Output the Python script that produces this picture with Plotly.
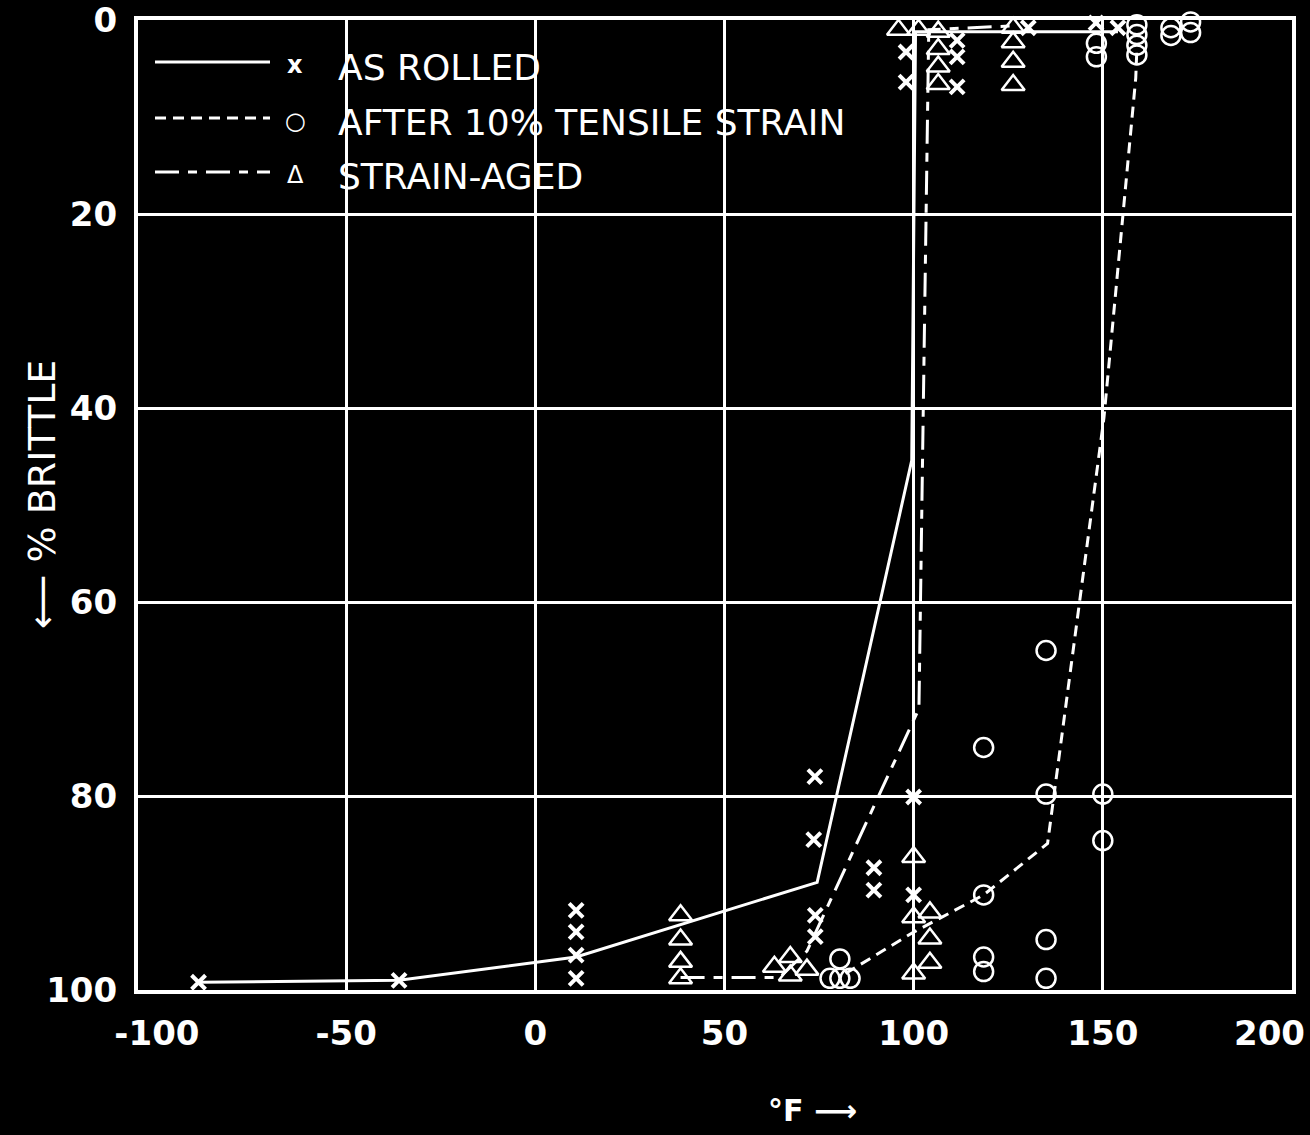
import plotly.graph_objects as go

# ---------------- data ----------------
rolled_x = [-89, -36, 10.8, 10.8, 10.8, 10.8, 73.9, 73.6, 74, 74, 89.5, 89.5,
            100, 100, 98, 98, 111.5, 111.5, 111.5, 130.3, 148.2, 154]
rolled_y = [99.2, 99, 91.8, 94, 96.4, 98.8, 78, 84.5, 92.3, 94.5, 87.4, 89.7,
            80.1, 90.2, 3.3, 6.4, 2.1, 3.8, 6.9, 0.8, 0.3, 0.8]
rolled_line_x = [-89, -36, 10.8, 74.5, 99.5, 100.5, 154]
rolled_line_y = [99.2, 99, 96.6, 88.9, 45.4, 1.2, 1.2]

strained_x = [77.9, 80.5, 80.5, 83.2, 118.5, 118.5, 118.5, 118.5, 135, 135, 135, 135,
              150, 150, 148.3, 148.3, 159, 159, 159, 159, 168, 168, 173.2, 173.2]
strained_y = [98.8, 96.8, 98.8, 98.8, 75, 90.2, 96.6, 98.1, 65, 79.8, 94.8, 98.8,
              79.8, 84.6, 2.4, 3.8, 0.5, 1.5, 2.6, 3.6, 0.8, 1.6, 0.2, 1.3]
strained_line_x = [82, 99.7, 118.5, 135.4, 150.3, 158.7, 159]
strained_line_y = [98.3, 94.1, 90.2, 84.9, 41, 6, 3]

aged_x = [38.4, 38.4, 38.4, 38.4, 63.2, 67.4, 67.4, 71.8, 100, 100, 100, 104.3, 104.3, 104.3,
          96, 101.3, 106.5, 106.5, 106.5, 106.5, 126.3, 126.3, 126.3, 126.3]
aged_y = [92.3, 94.8, 97.1, 98.8, 97.6, 96.6, 98.5, 97.9, 86.3, 92.5, 98.3, 92, 94.7, 97.2,
          1, 1, 1.2, 3.0, 4.8, 6.6, 0.8, 2.3, 4.3, 6.7]
aged_line_x = [38.4, 64.6, 71.8, 101.4, 104, 126.3]
aged_line_y = [98.7, 98.7, 96, 71, 1, 0.6]

x_ticks = [-100, -50, 0, 50, 100, 150]
x_ticktext = ["-100", "-50", "0", "50", "100", "150"]
x_edge_label = "200"          # label of the right-hand frame edge (x = 200)
x_grid = [-50, 0, 50, 100, 150]
y_ticks = [0, 20, 40, 60, 80, 100]

legend_names = ["AS ROLLED", "AFTER 10% TENSILE STRAIN", "STRAIN-AGED"]
legend_syms = ["<b>x</b>", "○", "Δ"]

W = "white"
DASH_SHORT = "11px,7px"
DASH_LONG = "24px,9px,9px,9px"

fig = go.Figure()

# lines
fig.add_trace(go.Scatter(x=rolled_line_x, y=rolled_line_y, mode="lines",
                         line=dict(color=W, width=3), showlegend=False, hoverinfo="skip"))
fig.add_trace(go.Scatter(x=strained_line_x, y=strained_line_y, mode="lines",
                         line=dict(color=W, width=3, dash=DASH_SHORT), showlegend=False, hoverinfo="skip"))
fig.add_trace(go.Scatter(x=aged_line_x, y=aged_line_y, mode="lines",
                         line=dict(color=W, width=3, dash=DASH_LONG), showlegend=False, hoverinfo="skip"))

# markers
fig.add_trace(go.Scatter(x=rolled_x, y=rolled_y, mode="markers", name="AS ROLLED",
                         marker=dict(symbol="x-thin-open", size=14, color=W, line=dict(color=W, width=4)),
                         showlegend=False, cliponaxis=False))
fig.add_trace(go.Scatter(x=strained_x, y=strained_y, mode="markers", name="AFTER 10% TENSILE STRAIN",
                         marker=dict(symbol="circle-open", size=19, color=W, line=dict(color=W, width=2.5)),
                         showlegend=False, cliponaxis=False))
fig.add_trace(go.Scatter(x=aged_x, y=aged_y, mode="markers", name="STRAIN-AGED",
                         marker=dict(symbol="triangle-up-open", size=20, color=W, line=dict(color=W, width=2.5)),
                         showlegend=False, cliponaxis=False))

# hand-drawn-style legend (paper coordinates)
L, R, T, B = 138, 1292, 20, 990
def px(xp):
    return (xp - L) / (R - L)
def py(yp):
    return (B - yp) / (B - T)

rows = [62, 118, 172]
dashes = ["solid", DASH_SHORT, DASH_LONG]
for yy, d in zip(rows, dashes):
    fig.add_shape(type="line", xref="paper", yref="paper",
                  x0=px(155), x1=px(270), y0=py(yy), y1=py(yy),
                  line=dict(color=W, width=3, dash=d))
for yy, s, n in zip(rows, legend_syms, legend_names):
    fig.add_annotation(xref="paper", yref="paper", x=px(295), y=py(yy + 3), text=s,
                       showarrow=False, font=dict(family="DejaVu Sans", size=24, color=W),
                       xanchor="center", yanchor="middle")
    fig.add_annotation(xref="paper", yref="paper", x=px(336), y=py(yy + 5), text=n,
                       showarrow=False, font=dict(family="DejaVu Sans", size=36, color=W),
                       xanchor="left", yanchor="middle")

tick_font = dict(family="DejaVu Sans", size=34, color=W, weight="bold")

# label for the right frame edge (x = 200), kept inside the page
fig.add_annotation(xref="paper", yref="paper", x=px(1307), y=py(1033), text=x_edge_label,
                   showarrow=False, font=tick_font, xanchor="right", yanchor="middle")

# axis titles
fig.add_annotation(xref="paper", yref="paper", x=px(812), y=py(1110), text="<b>°F ⟶</b>",
                   showarrow=False, font=dict(family="DejaVu Sans", size=30, color=W),
                   xanchor="center", yanchor="middle")
fig.add_annotation(xref="paper", yref="paper", x=px(42), y=py(495), text="⟵ % BRITTLE",
                   textangle=-90, showarrow=False,
                   font=dict(family="DejaVu Sans", size=38, color=W),
                   xanchor="center", yanchor="middle")

fig.update_layout(
    width=1310, height=1135, autosize=False,
    margin=dict(l=L, r=1310 - R, t=T, b=1135 - B, autoexpand=False),
    paper_bgcolor="black", plot_bgcolor="black",
    showlegend=False,
    xaxis=dict(range=[-105, 200], tickmode="array", tickvals=x_ticks, ticktext=x_ticktext,
               showgrid=False, zeroline=False, showline=True, linecolor=W, linewidth=4,
               mirror=True, ticks="", tickfont=tick_font, ticklabelstandoff=10,
               ticklabeloverflow="allow", automargin=False,
               minor=dict(tickmode="array", tickvals=x_grid, showgrid=True,
                          gridcolor=W, gridwidth=2.5, ticks="")),
    yaxis=dict(range=[100, 0], tickmode="array", tickvals=y_ticks,
               showgrid=True, gridcolor=W, gridwidth=2.5, zeroline=False,
               showline=True, linecolor=W, linewidth=4, mirror=True, ticks="",
               tickfont=tick_font, ticklabelstandoff=10, ticklabeloverflow="allow",
               automargin=False),
)

fig.write_html("out.html", config={"displayModeBar": False},
               post_script="document.body.style.margin='0';document.body.style.background='black';")
